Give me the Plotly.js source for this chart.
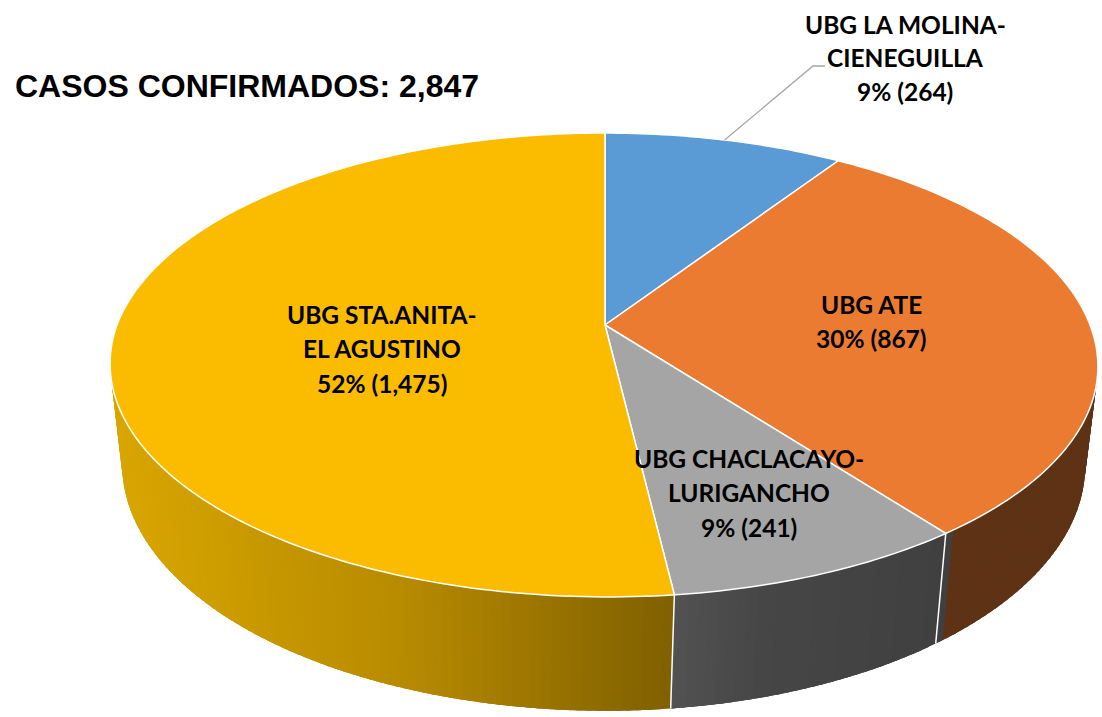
<!DOCTYPE html>
<html>
<head>
<meta charset="utf-8">
<script src="https://cdn.plot.ly/plotly-3.0.1.min.js"></script>
<style>html,body{margin:0;padding:0;background:#fff}</style>
</head>
<body>
<div id="chart" style="width:1102px;height:717px"></div>
<script>
// ---- data ----
const categories = ['UBG LA MOLINA-CIENEGUILLA', 'UBG ATE', 'UBG CHACLACAYO-LURIGANCHO', 'UBG STA.ANITA-EL AGUSTINO'];
const cases = [264, 867, 241, 1475];
const percentLabels = ['9% (264)', '30% (867)', '9% (241)', '52% (1,475)'];
const titleText = 'CASOS CONFIRMADOS: 2,847';
const topColors = ['#5B9BD5', '#EB7B31', '#A5A5A5', '#FBBC00'];

// ---- layout / style constants ----
const W = 1102, H = 717;
const cx = 605, cy = 325, persp = 0.1724, tilt = 169;
const wallScale = 0.975;
const wallStops = [
  [[120, [217, 166, 0]], [400, [184, 139, 0]], [670, [128, 96, 0]]],
  [[670, [82, 82, 82]], [760, [70, 70, 70]], [940, [64, 64, 64]]],
  [[940, [94, 50, 21]], [1100, [94, 50, 21]]]
];
const labelBlocks = [
  {i: 0, x: 905, ys: [24, 57, 91], lines: ['UBG LA MOLINA-', 'CIENEGUILLA']},
  {i: 1, x: 871, ys: [304, 338], lines: ['UBG ATE']},
  {i: 2, x: 749, ys: [458, 492, 527], lines: ['UBG CHACLACAYO-', 'LURIGANCHO']},
  {i: 3, x: 382, ys: [314, 348, 383], lines: ['UBG STA.ANITA-', 'EL AGUSTINO']}
];

// ---- projection of the pie disc ----
function discPoint(deg, skew) {
  const a = deg * Math.PI / 180, u = Math.sin(a), v = Math.cos(a), d = 1 + persp * v;
  const R = u < 0 ? 488 : 485;
  return [cx + R * u / d + (v < 0 ? -v * skew : 0), (cy - tilt * v) / d];
}
function topPoint(deg) { return discPoint(deg, 3); }
function bottomPoint(deg) {
  const p = discPoint(deg, 1);
  return [cx + (p[0] - cx) * wallScale, p[1] + 100 + (p[1] - 365) * 0.06];
}
function wallColor(x) {
  let stops = wallStops[0];
  for (const s of wallStops) if (x >= s[0][0]) stops = s;
  for (let i = 0; i < stops.length - 1; i++) {
    const a = stops[i], b = stops[i + 1];
    if (x <= b[0]) {
      const t = Math.max(0, (x - a[0]) / (b[0] - a[0]));
      return 'rgb(' + a[1].map((c, k) => Math.round(c + (b[1][k] - c) * t)).join(',') + ')';
    }
  }
  return 'rgb(' + stops[stops.length - 1][1].join(',') + ')';
}

const total = cases.reduce((a, b) => a + b, 0);
const bounds = [0];
cases.forEach(c => bounds.push(bounds[bounds.length - 1] + c / total * 360));

const traces = [];
function poly(pts, fill, lineColor, lineWidth) {
  traces.push({
    type: 'scatter', mode: lineColor ? 'lines' : 'none',
    x: pts.map(p => p[0]), y: pts.map(p => p[1]),
    fill: fill ? 'toself' : 'none', fillcolor: fill || undefined,
    line: lineColor ? {color: lineColor, width: lineWidth, simplify: false} : undefined,
    hoverinfo: 'skip', showlegend: false
  });
}

// side wall: thin overlapping facets so that the shade can change without seams
const step = 1;
for (let s = 0; s < cases.length; s++) {
  const from = Math.max(bounds[s], 85), to = Math.min(bounds[s + 1], 275);
  for (let a = from; a < to; a += step) {
    const b = Math.min(a + 2.5 * step, to);
    const pts = [topPoint(a), topPoint(b), bottomPoint(b), bottomPoint(a), topPoint(a)];
    const c = wallColor((bottomPoint(a)[0] + bottomPoint(a + step)[0]) / 2);
    poly(pts, c, null, 0);
  }
}
// white seams between wall sections
bounds.forEach(d => {
  if (d > 90 && d < 270) poly([topPoint(d), bottomPoint(d)], null, '#ffffff', 1.5);
});

// top face
for (let s = 0; s < cases.length; s++) {
  const pts = [[cx, cy]];
  for (let a = bounds[s]; a < bounds[s + 1]; a += 1) pts.push(topPoint(a));
  pts.push(topPoint(bounds[s + 1]), [cx, cy]);
  poly(pts, topColors[s], '#ffffff', 1.5);
}

// leader line of the first slice
const mid = topPoint((bounds[0] + bounds[1]) / 2);
poly([mid, [813, 66], [825, 66]], null, '#A6A6A6', 1.3);

// text
const annotations = [{
  x: 13, y: 86, xref: 'x', yref: 'y', xanchor: 'left', yanchor: 'middle', showarrow: false,
  text: titleText, font: {family: 'Liberation Sans, Arial, sans-serif', size: 32, color: '#000', weight: 700}
}];
labelBlocks.forEach(b => {
  b.lines.concat([percentLabels[b.i]]).forEach((t, k) => {
    annotations.push({
      x: b.x, y: b.ys[k], xref: 'x', yref: 'y', xanchor: 'center', yanchor: 'middle', showarrow: false,
      text: t, font: {family: 'Lato, Carlito, Calibri, sans-serif', size: 24.5, color: '#000', weight: 700}
    });
  });
});

const hidden = {visible: false, fixedrange: true, showgrid: false, zeroline: false};
Plotly.newPlot('chart', traces, {
  width: W, height: H,
  margin: {l: 0, r: 0, t: 0, b: 0},
  paper_bgcolor: '#fff', plot_bgcolor: '#fff',
  xaxis: Object.assign({range: [0, W]}, hidden),
  yaxis: Object.assign({range: [H, 0]}, hidden),
  annotations: annotations, showlegend: false
}, {displayModeBar: false, staticPlot: true});
</script>
</body>
</html>
